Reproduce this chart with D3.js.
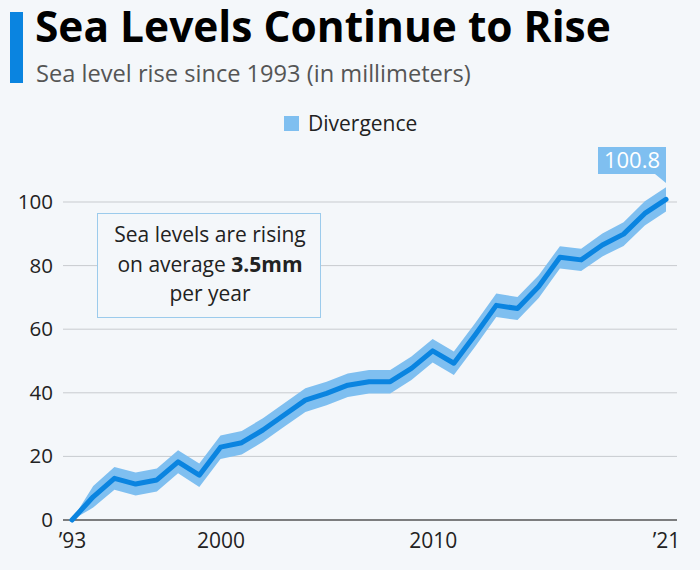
<!DOCTYPE html>
<html>
<head>
<meta charset="utf-8">
<script src="https://cdn.jsdelivr.net/npm/d3@7"></script>
<style>
  html, body { margin: 0; padding: 0; background: #f4f7fa; }
  svg { display: block; font-family: "Open Sans", sans-serif; }
</style>
</head>
<body>
<svg id="chart" width="700" height="570"></svg>
<script>
// ---- Data ----
const years = [1993,1994,1995,1996,1997,1998,1999,2000,2001,2002,2003,2004,2005,2006,2007,2008,2009,2010,2011,2012,2013,2014,2015,2016,2017,2018,2019,2020,2021];
const seaLevel = [0,7.3,13.1,11.3,12.6,18.3,14.1,22.9,24.3,28.3,33.0,37.7,39.8,42.4,43.5,43.5,47.7,53.2,49.3,58.2,67.5,66.5,73.4,82.6,81.8,86.5,89.9,96.4,100.8];
const divergence = [0,3.4,3.6,3.6,3.6,3.6,3.7,3.7,3.7,3.7,3.7,3.7,3.7,3.7,3.7,3.7,3.7,3.7,3.7,3.7,3.7,3.6,3.6,3.5,3.5,3.6,3.7,3.8,3.8];
const yTicks = [0,20,40,60,80,100];
const xTicks = [1993,2000,2010,2021];
const xTickLabels = ["\u201993","2000","2010","\u201921"];
const title = "Sea Levels Continue to Rise";
const subtitle = "Sea level rise since 1993 (in millimeters)";
const legendLabel = "Divergence";
const lastLabel = "100.8";

// ---- Styles ----
const BG = "#f4f7fa";
const LINE = "#0a84e0";
const BAND = "#7fbff0";

const svg = d3.select("#chart");
svg.append("rect").attr("width",700).attr("height",570).attr("fill",BG);

function fitWidth(sel, target) {
  const w = sel.node().getComputedTextLength();
  const fs = parseFloat(sel.attr("font-size"));
  sel.attr("font-size", fs * target / w);
}

// Header
svg.append("rect").attr("x",10).attr("y",12).attr("width",13).attr("height",71).attr("fill",LINE);
const t = svg.append("text").attr("x",35).attr("y",42)
  .attr("font-size",42).attr("font-weight",700).attr("fill","#000")
  .text(title);
fitWidth(t, 576);
const st = svg.append("text").attr("x",36).attr("y",82)
  .attr("font-size",23).attr("font-weight",400).attr("fill","#555")
  .text(subtitle);
fitWidth(st, 435);

// Legend
svg.append("rect").attr("x",284).attr("y",116).attr("width",15).attr("height",15).attr("fill",BAND);
svg.append("text").attr("x",308).attr("y",131).attr("font-size",21).attr("fill","#222").text(legendLabel);

// Scales
const x = d3.scaleLinear().domain([1993,2021]).range([72,666]);
const y = d3.scaleLinear().domain([0,100]).range([520,202]);
const gridX0 = 63, gridX1 = 677;

// Grid
svg.append("g").selectAll("line").data(yTicks.filter(d=>d!==0)).join("line")
  .attr("x1",gridX0).attr("x2",gridX1)
  .attr("y1",d=>y(d)).attr("y2",d=>y(d))
  .attr("stroke","#c8cbcf").attr("stroke-width",1);

// Y axis labels
const yAxis = d3.axisLeft(y).tickValues(yTicks).tickSize(0).tickPadding(10);
const gy = svg.append("g").attr("transform",`translate(${gridX0},0)`).call(yAxis);
gy.select(".domain").remove();
gy.selectAll("text").attr("font-size",20.5).attr("font-family","Open Sans, sans-serif").attr("fill","#222");

// Annotation box
svg.append("rect").attr("x",97.5).attr("y",213.5).attr("width",223).attr("height",104)
  .attr("fill",BG).attr("stroke","#9ccbec").attr("stroke-width",1);
const ann = svg.append("text").attr("text-anchor","middle").attr("font-size",21).attr("fill","#222");
ann.append("tspan").attr("x",210).attr("y",242).text("Sea levels are rising");
const l2 = ann.append("tspan").attr("x",210).attr("y",272);
l2.append("tspan").text("on average ");
l2.append("tspan").attr("font-weight",700).text("3.5mm");
ann.append("tspan").attr("x",210).attr("y",301).text("per year");

// Data
const data = years.map((yr,i)=>({yr, v: seaLevel[i], d: divergence[i]}));
const area = d3.area().x(d=>x(d.yr)).y0(d=>y(d.v - d.d)).y1(d=>y(d.v + d.d));
svg.append("path").datum(data).attr("d",area).attr("fill",BAND);

// Zero line
svg.append("line").attr("x1",gridX0).attr("x2",gridX1).attr("y1",y(0)).attr("y2",y(0))
  .attr("stroke","#555").attr("stroke-width",1.5);

const line = d3.line().x(d=>x(d.yr)).y(d=>y(d.v));
svg.append("path").datum(data).attr("d",line).attr("fill","none")
  .attr("stroke",LINE).attr("stroke-width",5).attr("stroke-linejoin","round").attr("stroke-linecap","round");

// X axis labels
const xAxis = d3.axisBottom(x).tickValues(xTicks).tickSize(0).tickPadding(13)
  .tickFormat((d,i)=>xTickLabels[i]);
const gx = svg.append("g").attr("transform",`translate(0,${y(0)})`).call(xAxis);
gx.select(".domain").remove();
gx.selectAll("text").attr("font-size",21).attr("font-family","Open Sans, sans-serif").attr("fill","#222");

// Callout for last value
const last = data[data.length-1];
const lx = x(last.yr);
const bx1 = lx, bx0 = lx - 68, by0 = 147, by1 = 174;
svg.append("path")
  .attr("d",`M${bx0},${by0}H${bx1}V${by1+9}L${bx1-11},${by1}H${bx0}Z`)
  .attr("fill",BAND);
svg.append("text").attr("x",(bx0+bx1)/2).attr("y",168).attr("text-anchor","middle")
  .attr("font-size",22).attr("fill","#fff").text(lastLabel);
</script>
</body>
</html>
